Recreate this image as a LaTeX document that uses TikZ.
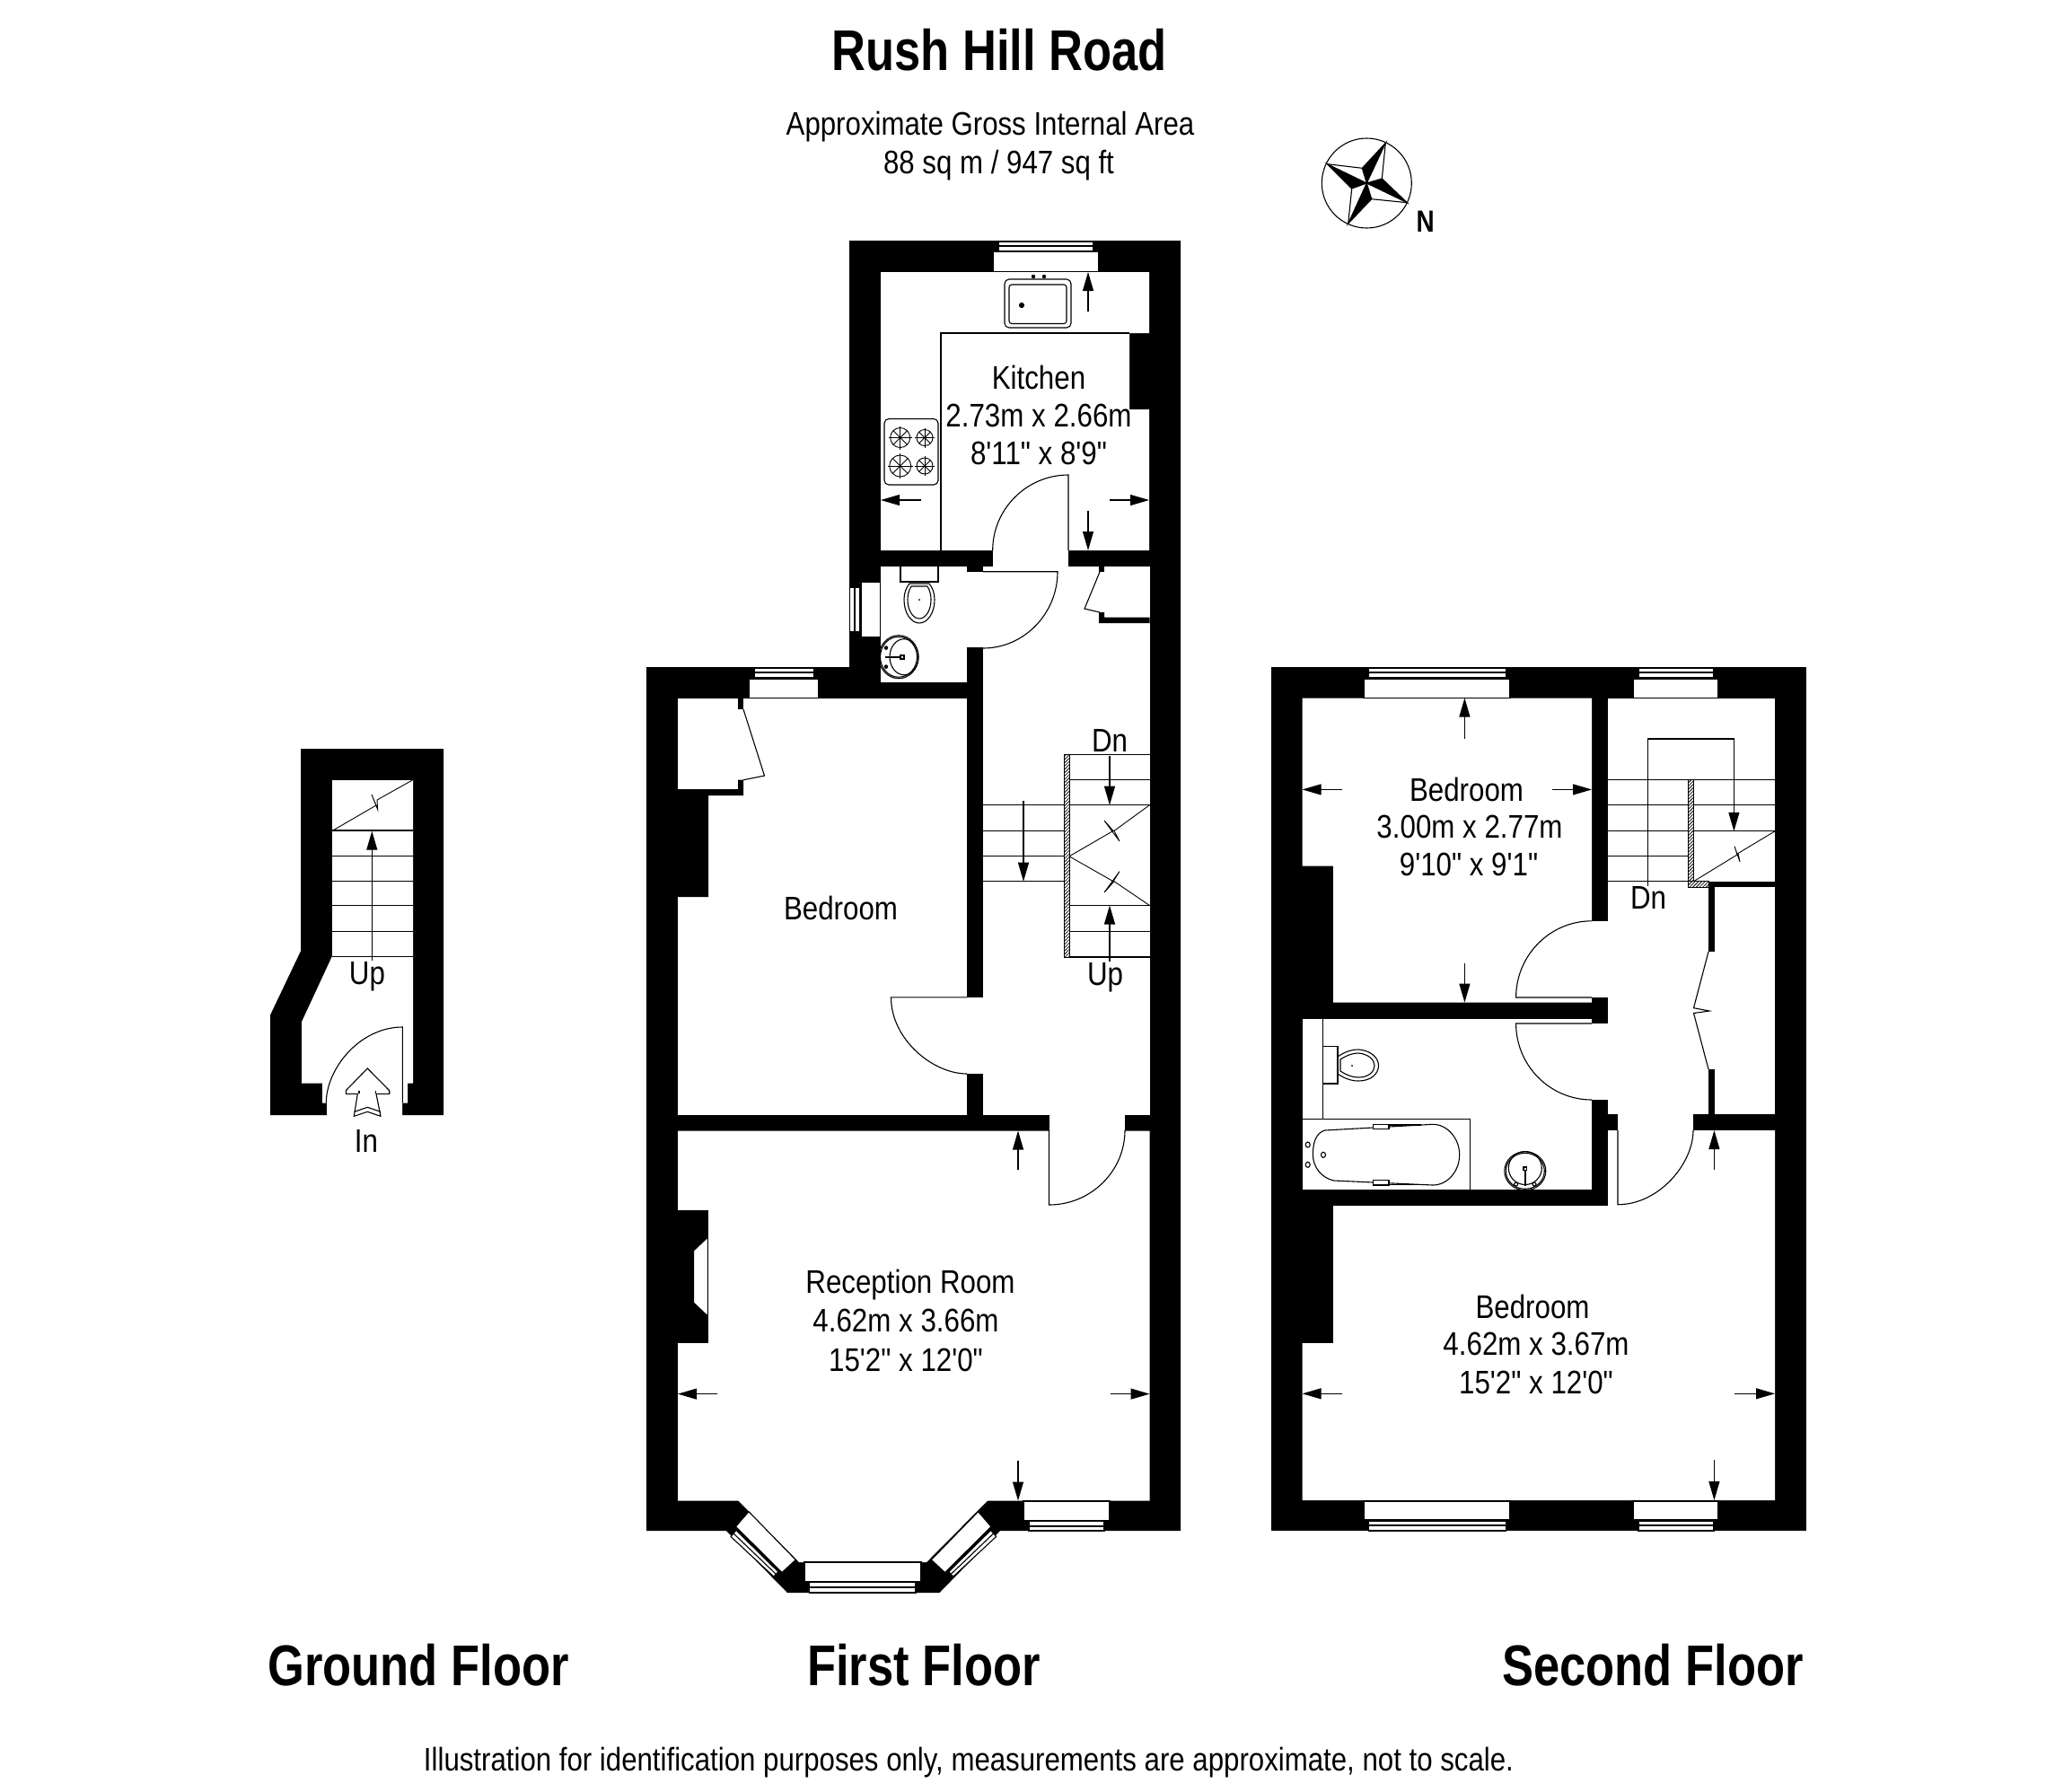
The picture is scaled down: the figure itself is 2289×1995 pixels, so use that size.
\documentclass[tikz,border=0pt]{standalone}
\usepackage{fontspec}
\usetikzlibrary{arrows.meta,patterns.meta}
\newfontfamily\plainf[FakeStretch=0.86]{Liberation Sans}
\newfontfamily\boldf[FakeStretch=0.82]{Liberation Sans Bold}
\tikzset{
  ln/.style={draw=black,line width=1.1pt},
  wh/.style={fill=white},
  bk/.style={fill=black},
  winbox/.style={fill=white,draw=black,line width=1.1pt},
  dimarrow/.style={line width=1.1pt,-{Triangle[length=21pt,width=12pt]},shorten >=0pt},
  hatch/.style={draw=black,line width=.8pt,pattern={Lines[angle=45,distance=2.6pt,line width=.8pt]}},
  lab/.style={font=\plainf\fontsize{36.4}{36.4}\selectfont,inner sep=0pt,text height=26pt,text depth=0pt},
  small/.style={font=\plainf\fontsize{36.3}{36.3}\selectfont,inner sep=0pt,text height=26pt,text depth=0pt},
  head/.style={font=\boldf\fontsize{64}{64}\selectfont,inner sep=0pt,text height=46pt,text depth=0pt},
}
\newcommand{\burner}[3]{%
  \draw[ln,line width=.9pt] (#1,#2) circle[radius=#3pt];
  \foreach \a in {0,45,...,315}{\draw[line width=.9pt] (#1,#2) -- ++(\a:#3pt);}
  \draw[line width=.9pt] (#1-#3-2,#2) -- (#1+#3+2,#2) (#1,#2-#3-2) -- (#1,#2+#3+2);
}
\begin{document}
\begin{tikzpicture}[x=1pt,y=-1pt]
\fill[white] (0,0) rectangle (2289,1995);
\useasboundingbox (0,0) rectangle (2289,1995);

%% ---------- FIRST FLOOR silhouette
\fill[bk] (946,268)--(1315,268)--(1315,1705)--(1114,1705)--(1046.5,1774)--(877,1774)--(809,1705)--(720,1705)--(720,743)--(946,743)--cycle;
% rooms
\fill[wh] (981,303)--(1280,303)--(1280,371)--(1258,371)--(1258,456)--(1280,456)--(1280,613)--(981,613)--cycle;
\fill[wh] (1105.7,612)rectangle(1190,632);
\fill[wh] (981,631)rectangle(1077,759.5);
\fill[wh] (1076,637)rectangle(1096,721);
\fill[wh] (1095,631)rectangle(1280.5,1241.5);
\fill[wh] (1076,1110.8)rectangle(1096,1196);
\fill[wh] (755,777.5)rectangle(1077,1241.5);
\fill[wh] (1168.5,1240)rectangle(1253,1261);
\fill[wh] (755,1259.5)--(1280.5,1259.5)--(1280.5,1671.5)--(1100,1671.5)--(1032,1740)--(890,1740)--(822.4,1671.5)--(755,1671.5)--cycle;
% closet + chimney in bedroom
\fill[bk] (822,777.5)rectangle(828,790);
\fill[bk] (755,879)--(822,879)--(822,868.7)--(828,868.7)--(828,886)--(789,886)--(789,999)--(755,999)--cycle;
\draw[ln] (828,790)--(851.5,864)--(828,868.7);
% hall closet
\fill[bk] (1224,631)rectangle(1230,637);
\fill[bk] (1224,682)--(1230,682)--(1230,687.5)--(1280.5,687.5)--(1280.5,694)--(1224,694)--cycle;
\draw[ln] (1225,637)--(1208,678)--(1225,682);
% reception chimney
\fill[bk] (755,1348)rectangle(789,1496);
\filldraw[wh,ln] (788.4,1378)--(772.6,1393)--(772.6,1451)--(788.4,1466)--cycle;
% kitchen fittings
\draw[ln] (1048,613)--(1048,371)--(1258,371);
\draw[ln,rounded corners=5pt] (1119,311)rectangle(1193,365);
\draw[ln,rounded corners=3pt] (1124,317)rectangle(1188,360.5);
\filldraw[ln,fill=black] (1138,340) circle[radius=2.5pt];
\filldraw (1151,308) circle[radius=2pt] (1163,308) circle[radius=2pt];
\draw[ln,rounded corners=5pt] (985,466.5)rectangle(1045,540);
\burner{1002.7}{487.5}{11}\burner{1030}{487.5}{9}\burner{1002.7}{519}{12}\burner{1030}{519}{9}
% windows first floor
\filldraw[winbox] (1106,280)rectangle(1224,302.6);
\filldraw[winbox] (1112,269)rectangle(1218,279.5);
\draw[ln] (1112,274)--(1218,274);
\filldraw[winbox] (959,648)rectangle(980.3,710);
\filldraw[winbox] (946.7,654)rectangle(958,704);
\draw[ln] (952,654)--(952,704);
\filldraw[winbox] (834,756)rectangle(912,777.5);
\filldraw[winbox] (840,744)rectangle(907,755);
\draw[ln] (840,749)--(907,749);
\filldraw[winbox] (896,1740)rectangle(1026,1761.5);
\filldraw[winbox] (901.7,1762.6)rectangle(1020,1774);
\draw[ln] (901.7,1768)--(1020,1768);
\filldraw[winbox] (1140,1672)rectangle(1236,1693.3);
\filldraw[winbox] (1146,1694.4)rectangle(1230,1705);
\draw[ln] (1146,1700)--(1230,1700);
\filldraw[winbox] (834,1683.7)--(886.3,1737.4)--(871,1751.5)--(819.5,1700.4)--cycle;
\filldraw[winbox] (820,1704.4)--(866.8,1750.7)--(861.8,1756)--(814,1711.5)--cycle;
\draw[ln] (817,1708)--(864.3,1753.3);
\filldraw[winbox] (1089.6,1683.7)--(1037.3,1737.4)--(1052.6,1751.5)--(1104,1700.4)--cycle;
\filldraw[winbox] (1103.6,1704.4)--(1056.8,1750.7)--(1061.8,1756)--(1109.6,1711.5)--cycle;
\draw[ln] (1106.6,1708)--(1059.3,1753.3);
% WC fittings
\draw[ln] (1003,631)--(1003,648)--(1045,648)--(1045,631);
\draw[ln] (1013,650) .. controls (1009,655) and (1007,661) .. (1007,668) .. controls (1007,683) and (1015,694) .. (1024,694) .. controls (1033,694) and (1041,683) .. (1041,668) .. controls (1041,661) and (1039,655) .. (1035,650)--cycle;
\draw[ln] (1015,653) .. controls (1012,658) and (1011,663) .. (1011,668) .. controls (1011,680) and (1017,689) .. (1024,689) .. controls (1031,689) and (1037,680) .. (1037,668) .. controls (1037,663) and (1036,658) .. (1033,653)--cycle;
\filldraw (1024,668) circle[radius=.7pt];
\begin{scope}
\clip (981,700)rectangle(1040,760);
\draw[ln] (1001,731.7) ellipse[x radius=22pt,y radius=24pt];
\draw[ln] (1001,731.7) ellipse[x radius=20.5pt,y radius=22.5pt];
\draw[ln] (1007,731.7) ellipse[x radius=16pt,y radius=20pt];
\end{scope}
\filldraw (987,721.6) circle[radius=2pt] (987,742.6) circle[radius=2pt];
\draw[line width=2pt] (986,732)--(1002,732);
\draw[ln] (1003,730)rectangle(1007,734);
% doors first floor
\draw[ln] (1105.7,613) .. controls (1105.7,567) and (1143.6,529) .. (1190,529)--(1190,613);
\draw[ln] (1095,636.7)--(1178,636.7) .. controls (1178,683.5) and (1140.6,722) .. (1095,722);
\draw[ln] (1077,1110.8)--(992.5,1110.8) .. controls (992.5,1157.6) and (1039,1196) .. (1077,1196);
\draw[ln] (1168.5,1259)--(1168.5,1342) .. controls (1215,1342) and (1253,1304.6) .. (1253,1259);
% stairs first floor
\foreach \yy in {896.7,925.8,953.8,981.7}{\draw[ln] (1095,\yy)--(1185,\yy);}
\foreach \yy in {840.3,868.7,896.7,1008.5,1037.7,1066}{\draw[ln] (1191,\yy)--(1280.5,\yy);}
\filldraw[hatch] (1185,840.3)rectangle(1191,1066);
\draw[ln,line width=.9pt] (1191,953.8)--(1240,925.4)--(1230,914)--(1247,937)--(1241,925.4)--(1280.5,896.7);
\draw[ln,line width=.9pt] (1191,953.8)--(1240,981.7)--(1247,970.6)--(1230,994)--(1241,981.7)--(1280.5,1008.5);
\draw[dimarrow] (1140,892)--(1140,981.7);
\draw[dimarrow] (1236,842)--(1236,896.7);
\draw[dimarrow] (1236,1071)--(1236,1008.5);
% dim arrows first floor
\draw[dimarrow] (1212,347)--(1212,303);
\draw[dimarrow] (1026,557)--(981,557);
\draw[dimarrow] (1236,557)--(1280,557);
\draw[dimarrow] (1212,569)--(1212,613);
\draw[dimarrow] (1134,1302.6)--(1134,1259.5);
\draw[dimarrow] (1134,1626.7)--(1134,1671.5);
\draw[dimarrow] (799,1552.6)--(755,1552.6);
\draw[dimarrow] (1236.5,1552.6)--(1280.5,1552.6);

%% ---------- SECOND FLOOR
\fill[bk] (1416,743)rectangle(2012,1705);
\fill[wh] (1450.6,777.5)--(1773,777.5)--(1773,1116.6)--(1485,1116.6)--(1485,964.5)--(1450.6,964.5)--cycle;
\fill[wh] (1772,1025.8)rectangle(1792,1111);
\fill[wh] (1791,777.5)rectangle(1977,981.7);
\fill[wh] (1791,980)rectangle(1903,1241);
\fill[wh] (1910,988)rectangle(1977,1241);
\fill[wh] (1902,1060)rectangle(1911,1191);
\fill[wh] (1450.6,1134.6)rectangle(1773,1325);
\fill[wh] (1772,1140)rectangle(1792,1225);
\fill[wh] (1802,1240)rectangle(1886,1260);
\fill[wh] (1485,1343)--(1791,1343)--(1791,1259)--(1977,1259)--(1977,1671)--(1450.6,1671)--(1450.6,1496)--(1485,1496)--cycle;
% windows
\foreach \a/\b/\c/\d in {1519/1682/1524.5/1677.5,1819/1914/1825/1909}{
  \filldraw[winbox] (\a,756)rectangle(\b,777.5);
  \filldraw[winbox] (\c,744)rectangle(\d,755);
  \draw[ln] (\c,749)--(\d,749);
  \filldraw[winbox] (\a,1672)rectangle(\b,1692.7);
  \filldraw[winbox] (\c,1694)rectangle(\d,1705);
  \draw[ln] (\c,1699)--(\d,1699);
}
% stairs
\foreach \yy in {868.7,896.7,925.8,953.8,981.7}{\draw[ln] (1791,\yy)--(1880,\yy);}
\foreach \yy in {868.7,896.7,925.8}{\draw[ln] (1886.5,\yy)--(1977,\yy);}
\filldraw[hatch] (1880,868.7)rectangle(1886.5,981.7);
\filldraw[hatch] (1880,981.7)rectangle(1903,988);
\draw[ln,line width=.9pt] (1886.5,981.7)--(1935,952)--(1932,942.6)--(1938,960)--(1936,950.5)--(1977,925.8);
\draw[ln] (1835.5,986.7)--(1835.5,823)--(1931.4,823)--(1931.4,900);
\draw[dimarrow] (1931.4,880)--(1931.4,925.8);
% cupboard doors
\draw[ln] (1903,1060)--(1886.5,1122.7)--(1904,1126)--(1886.5,1128.5)--(1903,1191);
% doors
\draw[ln] (1773,1025.8) .. controls (1726.5,1025.8) and (1688.6,1064) .. (1688.6,1111)--(1773,1111);
\draw[ln] (1773,1140)--(1688.6,1140) .. controls (1688.6,1187) and (1726.5,1225) .. (1773,1225);
\draw[ln] (1802,1259)--(1802,1341.7) .. controls (1848,1341.7) and (1886,1296) .. (1886,1259);
% bath and WC
\draw[ln] (1473.5,1134.6)--(1473.5,1247);
\draw[ln] (1450.6,1246.5)--(1637.5,1246.5)--(1637.5,1325);
\draw[ln] (1473.5,1165.6)rectangle(1490,1207);
\draw[ln] (1490,1177) .. controls (1497,1172) and (1505,1169) .. (1513,1169) .. controls (1527,1170) and (1535.5,1178) .. (1535.5,1187) .. controls (1535.5,1196) and (1527,1204) .. (1513,1204) .. controls (1505,1204) and (1497,1201) .. (1490,1196);
\draw[ln] (1493,1180) .. controls (1499,1176) and (1506,1173) .. (1513,1173) .. controls (1524,1174) and (1531,1180) .. (1531,1187) .. controls (1531,1194) and (1524,1200) .. (1513,1200) .. controls (1506,1200) and (1499,1197) .. (1493,1193)--cycle;
\filldraw[fill=black] (1506,1187) circle[radius=.7pt];
\draw[ln] (1475.5,1259)--(1596,1252.3) .. controls (1612,1252.3) and (1625.7,1268) .. (1625.7,1286) .. controls (1625.7,1305) and (1612,1320) .. (1596,1320)--(1485.7,1315) .. controls (1472,1312) and (1462.4,1300) .. (1462.4,1286) .. controls (1462.4,1272) and (1466,1262) .. (1475.5,1259)--cycle;
\filldraw[winbox] (1529.4,1252.5)rectangle(1547,1257.5);
\filldraw[winbox] (1529.4,1314.5)rectangle(1547,1320);
\draw[line width=1.8pt] (1547,1253)--(1583,1253) (1547,1319.5)--(1583,1319.5);
\draw[ln] (1456.7,1275) ellipse[x radius=2.5pt,y radius=3pt] (1456.7,1297.3) ellipse[x radius=2.5pt,y radius=3pt] (1474,1286.3) ellipse[x radius=2.5pt,y radius=3pt];
\begin{scope}
\clip (1660,1270)rectangle(1740,1325);
\draw[ln] (1698.8,1304.3) ellipse[x radius=23pt,y radius=21.5pt];
\draw[ln] (1698.8,1304.3) ellipse[x radius=21.5pt,y radius=20pt];
\draw[ln] (1698.8,1301) circle[radius=18.5pt];
\end{scope}
\draw[ln] (1697,1300)rectangle(1700.6,1303.5);
\draw[line width=1.6pt] (1698.8,1304)--(1698.8,1321);
\draw[ln] (1688.6,1319) circle[radius=2pt] (1709,1319) circle[radius=2pt];
% dim arrows
\draw[dimarrow] (1631.4,823)--(1631.4,777.5);
\draw[dimarrow] (1495,879.4)--(1450.6,879.4);
\draw[dimarrow] (1729,879.4)--(1773,879.4);
\draw[dimarrow] (1631.4,1073)--(1631.4,1116.6);
\draw[dimarrow] (1909.4,1302.7)--(1909.4,1259);
\draw[dimarrow] (1495,1552.3)--(1450.6,1552.3);
\draw[dimarrow] (1932,1552.3)--(1977,1552.3);
\draw[dimarrow] (1909.4,1626)--(1909.4,1671);

%% ---------- GROUND FLOOR
\fill[bk] (335,834)--(494,834)--(494,1242)--(301,1242)--(301,1130.7)--(335,1059.3)--cycle;
\fill[wh] (370,869)--(460,869)--(460,1206.7)--(454,1206.7)--(454,1228.7)--(448,1228.7)--(448,1243)--(364,1243)--(364,1228.7)--(359,1228.7)--(359,1206.7)--(336,1206.7)--(336,1138.3)--(370,1065)--cycle;
\foreach \yy in {925,953.3,981.3,1008.3,1037.3,1065.3}{\draw[ln] (370,\yy)--(460,\yy);}
\draw[ln,line width=.9pt] (370.7,925)--(419,897)--(414,885)--(420.7,901.7)--(420,891)--(459.3,869);
\draw[dimarrow] (414.3,1070)--(414.3,925.7);
\draw[ln] (448.3,1228.7)--(448.3,1144) .. controls (401,1144) and (363.3,1190) .. (363.3,1228.7);
\draw[ln,line join=miter] (409.3,1190)--(433.7,1214.7)--(433.7,1218.3)--(419,1218.3)--(424,1243.3)--(409.3,1238.3)--(394.3,1243.3)--(398.3,1218.3)--(385.3,1218.3)--(385.3,1214.7)--cycle;
\draw[ln] (394.7,1238.3)--(409.3,1233.3)--(424,1238.3);
\draw[ln] (400,1214.7)--(400,1218.3) (418.3,1214.7)--(418.3,1218.3);

%% ---------- COMPASS
\draw[ln] (1522.3,204) circle[radius=50pt];
\filldraw[ln,fill=black] (1543.3,159.3)--(1517.3,187.3)--(1522.3,204)--cycle;
\filldraw[ln,fill=black] (1567.3,225.7)--(1539.3,199)--(1522.3,204)--cycle;
\filldraw[ln,fill=black] (1501.7,249)--(1527.7,221.7)--(1522.3,204)--cycle;
\filldraw[ln,fill=black] (1478.3,182.7)--(1505.7,210)--(1522.3,204)--cycle;
\draw[ln] (1543.3,159.3)--(1539.3,199) (1567.3,225.7)--(1527.7,221.7) (1501.7,249)--(1505.7,210) (1478.3,182.7)--(1517.3,187.3);

%% ---------- TEXT
\node[head,font=\boldf\fontsize{64}{64}\selectfont,text height=46pt] (title) at (1113,55) {Rush Hill Road};
\node[small] (area1) at (1103,137) {Approximate Gross Internal Area};
\node[small] (area2) at (1112.5,180) {88 sq m / 947 sq ft};
\node[lab,font=\boldf\fontsize{34}{34}\selectfont,text height=24pt] (north) at (1587.7,246) {N};
\node[lab] (k1) at (1157,420) {Kitchen};
\node[lab] (k2) at (1157,462) {2.73m x 2.66m};
\node[lab] (k3) at (1157,504) {8'11" x 8'9"};
\node[lab] (b1) at (936.5,1011.6) {Bedroom};
\node[lab] (dn1) at (1236,824.6) {Dn};
\node[lab] (up1) at (1231,1084) {Up};
\node[lab] (r1) at (1014,1427) {Reception Room};
\node[lab] (r2) at (1009,1470) {4.62m x 3.66m};
\node[lab] (r3) at (1009,1514) {15'2" x 12'0"};
\node[lab] (s1) at (1633.5,879.4) {Bedroom};
\node[lab] (s2) at (1637,920.4) {3.00m x 2.77m};
\node[lab] (s3) at (1636,962.6) {9'10" x 9'1"};
\node[lab] (dn2) at (1836,999) {Dn};
\node[lab] (m1) at (1707,1455) {Bedroom};
\node[lab] (m2) at (1711,1496.7) {4.62m x 3.67m};
\node[lab] (m3) at (1711,1539) {15'2" x 12'0"};
\node[lab] (up0) at (409,1083) {Up};
\node[lab] (in0) at (408,1270) {In};
\node[head] (gf) at (466,1854) {Ground Floor};
\node[head] (ff) at (1029,1854) {First Floor};
\node[head] (sf) at (1841,1854) {Second Floor};
\node[small] (foot) at (1079,1959) {Illustration for identification purposes only, measurements are approximate, not to scale.};
\end{tikzpicture}
\end{document}
